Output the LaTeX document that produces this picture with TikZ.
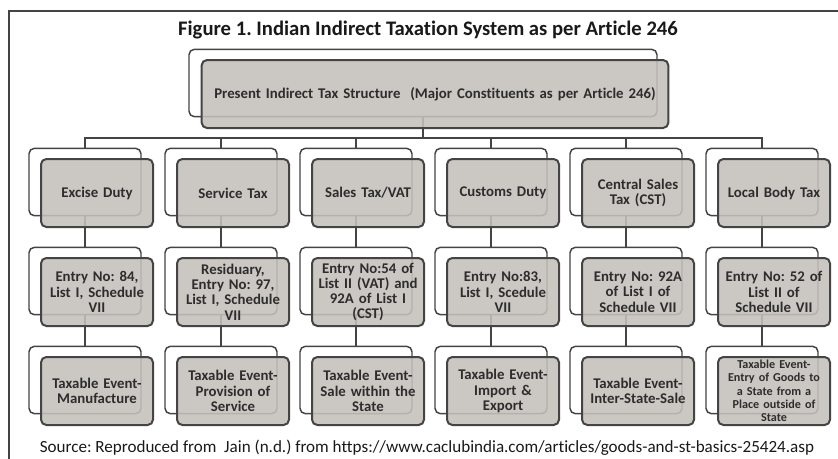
\documentclass[tikz,border=0pt]{standalone}
\usepackage{fontspec}
\setmainfont[Ligatures=NoCommon]{Carlito}
\frenchspacing
\definecolor{boxgray}{RGB}{196,192,187}
\definecolor{edgegray}{RGB}{68,68,68}
\definecolor{textgray}{RGB}{45,45,45}
\tikzset{
  backbox/.style={draw=edgegray, line width=1.1pt, fill=white, rounded corners=4pt,
    minimum width=84pt, minimum height=50.5pt, inner sep=0pt},
  frontbox/.style={draw=edgegray, line width=1.5pt, fill=boxgray, fill opacity=0.88,
    text opacity=1, rounded corners=4pt, minimum width=84pt, minimum height=51pt,
    inner sep=0pt, align=center, text width=84pt, text=textgray,
    font=\bfseries\fontsize{11.1}{11.4}\selectfont},
  link/.style={draw=edgegray, line width=1.1pt},
}
\begin{document}
\begin{tikzpicture}[x=0.75pt, y=-0.75pt]
        \useasboundingbox (0,0) rectangle (838,458);
        % Frame
        \draw[edgegray, line width=1.5pt] (9,470) -- (9,11) -- (850,11);

        % Title
        \node[anchor=base, font=\bfseries\fontsize{15.5}{18}\selectfont, text=black!90] (title) at (428,35)
          {Figure 1. Indian Indirect Taxation System as per Article 246};

        % Back boxes
        \node[backbox, minimum width=351pt] (top) at (423,83) {};
        \node[backbox] (a1) at (85,182) {};
        \node[backbox] (a2) at (221,182) {};
        \node[backbox] (a3) at (356,182) {};
        \node[backbox] (a4) at (491,182) {};
        \node[backbox] (a5) at (626,182) {};
        \node[backbox] (a6) at (762,182) {};
        \node[backbox] (b1) at (85,281) {};
        \node[backbox] (b2) at (221,281) {};
        \node[backbox] (b3) at (356,281) {};
        \node[backbox] (b4) at (491,281) {};
        \node[backbox] (b5) at (626,281) {};
        \node[backbox] (b6) at (762,281) {};
        \node[backbox] (c1) at (85,380) {};
        \node[backbox] (c2) at (221,380) {};
        \node[backbox] (c3) at (356,380) {};
        \node[backbox] (c4) at (491,380) {};
        \node[backbox] (c5) at (626,380) {};
        \node[backbox] (c6) at (762,380) {};

        % Connectors
        \coordinate (bus) at (0,138);
        \foreach \i in {1,...,6} {
          \draw[link] (top.south) -- (top.south |- bus) -| (a\i.north);
          \draw[link] (a\i.south) -- (b\i.north);
          \draw[link] (b\i.south) -- (c\i.north);
        }

        % Front boxes: top
        \node[frontbox, minimum width=350pt, text width=340pt] (ftop) at ([shift={(12,11)}]top.center)
          {Present Indirect Tax Structure~ (Major Constituents as per Article 246)};

        % Front boxes: taxes
        \node[frontbox] (fa1) at ([shift={(12,11)}]a1.center) {Excise Duty};
        \node[frontbox] (fa2) at ([shift={(12,11)}]a2.center) {Service Tax};
        \node[frontbox] (fa3) at ([shift={(12,11)}]a3.center) {Sales Tax/VAT};
        \node[frontbox] (fa4) at ([shift={(12,11)}]a4.center) {Customs Duty};
        \node[frontbox] (fa5) at ([shift={(12,11)}]a5.center) {Central Sales\\Tax (CST)};
        \node[frontbox] (fa6) at ([shift={(12,11)}]a6.center) {Local Body Tax};

        % Front boxes: entries
        \node[frontbox] (fb1) at ([shift={(12,11)}]b1.center) {Entry No: 84,\\List I, Schedule\\VII};
        \node[frontbox] (fb2) at ([shift={(12,11)}]b2.center) {Residuary,\\Entry No: 97,\\List I, Schedule\\VII};
        \node[frontbox] (fb3) at ([shift={(12,11)}]b3.center) {Entry No:54 of\\List II (VAT) and\\92A of List I\\(CST)};
        \node[frontbox] (fb4) at ([shift={(12,11)}]b4.center) {Entry No:83,\\List I, Scedule\\VII};
        \node[frontbox] (fb5) at ([shift={(12,11)}]b5.center) {Entry No: 92A\\of List I of\\Schedule VII};
        \node[frontbox] (fb6) at ([shift={(12,11)}]b6.center) {Entry No: 52 of\\List II of\\Schedule VII};

        % Front boxes: taxable events
        \node[frontbox] (fc1) at ([shift={(12,11)}]c1.center) {Taxable Event-\\Manufacture};
        \node[frontbox] (fc2) at ([shift={(12,11)}]c2.center) {Taxable Event-\\Provision of\\Service};
        \node[frontbox] (fc3) at ([shift={(12,11)}]c3.center) {Taxable Event-\\Sale within the\\State};
        \node[frontbox] (fc4) at ([shift={(12,11)}]c4.center) {Taxable Event-\\Import \&\\Export};
        \node[frontbox] (fc5) at ([shift={(12,11)}]c5.center) {Taxable Event-\\Inter-State-Sale};
        \node[frontbox, font=\bfseries\fontsize{9.1}{10}\selectfont] (fc6) at ([shift={(12,11)}]c6.center)
          {Taxable Event-\\Entry of Goods to\\a State from a\\Place outside of\\State};

        % Source
        \node[anchor=base, font=\fontsize{12.8}{15}\selectfont, text=black!90] (source) at (427,452)
          {Source: Reproduced from~ Jain (n.d.) from https://www.caclubindia.com/articles/goods-and-st-basics-25424.asp};
    \end{tikzpicture}
\end{document}
